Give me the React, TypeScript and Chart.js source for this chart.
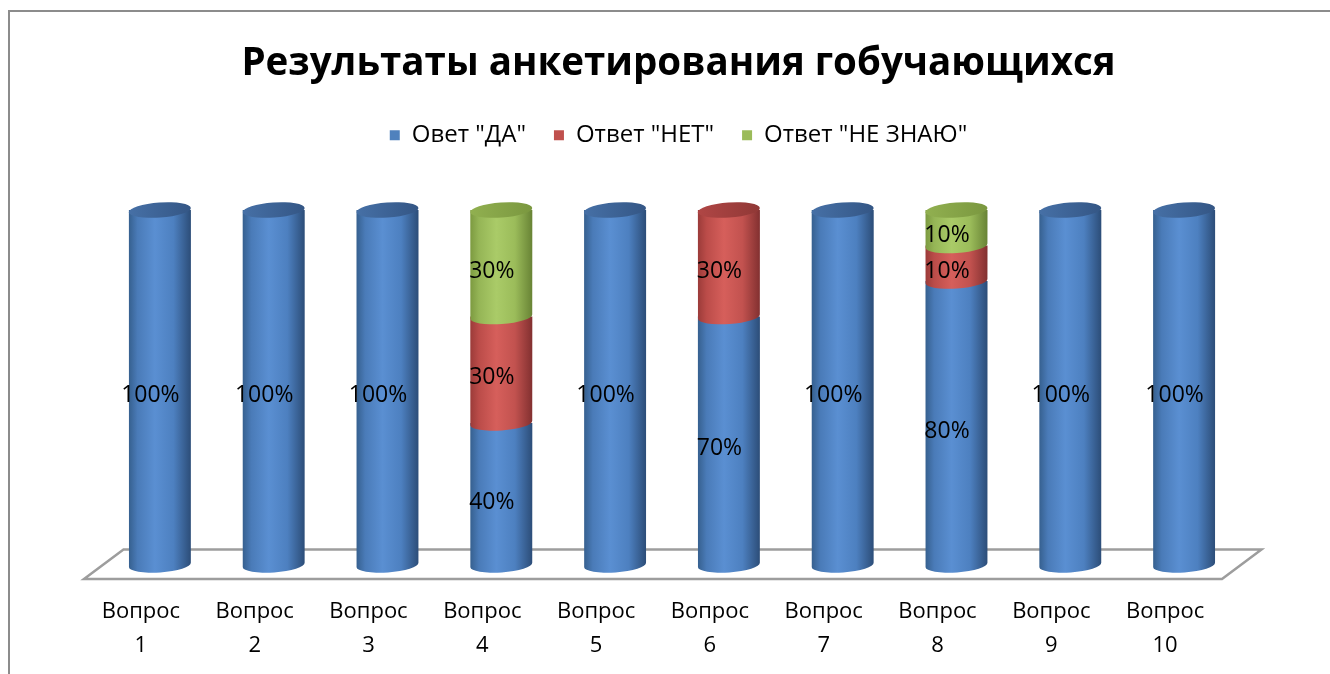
import React, { useEffect, useRef } from "react";
import { Chart, registerables } from "chart.js";

Chart.register(...registerables);

const titleText = "Результаты анкетирования гобучающихся";
const categories = [
  ["Вопрос", "1"],
  ["Вопрос", "2"],
  ["Вопрос", "3"],
  ["Вопрос", "4"],
  ["Вопрос", "5"],
  ["Вопрос", "6"],
  ["Вопрос", "7"],
  ["Вопрос", "8"],
  ["Вопрос", "9"],
  ["Вопрос", "10"],
];
const seriesNames = ['Овет "ДА"', 'Ответ "НЕТ"', 'Ответ "НЕ ЗНАЮ"'];
const yesValues = [100, 100, 100, 40, 100, 70, 100, 80, 100, 100];
const noValues = [0, 0, 0, 30, 0, 30, 0, 10, 0, 0];
const dunnoValues = [0, 0, 0, 30, 0, 0, 0, 10, 0, 0];

const baseColors = ["#4F81BD", "#C0504D", "#9BBB59"];
const shades = [
  { left: "#36608f", mid: "#4a7bb8", hi: "#5a8fd2", base: "#4d80c0", right: "#2c4d78", capL: "#4670a6", capR: "#345685" },
  { left: "#9b3b39", mid: "#bb4c49", hi: "#d65f5b", base: "#c2524f", right: "#823030", capL: "#b04645", capR: "#903836" },
  { left: "#7c9a40", mid: "#95b556", hi: "#aacb68", base: "#9bbc5a", right: "#688335", capL: "#91b050", capR: "#7a973f" },
];

const FONT = "'Open Sans', 'Noto Sans', sans-serif";
const BAR_DX = 19; // depth offset of bars from front axis
const ELL_B = 7.5;
const TILT = -0.07;

function drawDataset(chart: any, di: number) {
  const { ctx } = chart;
  const meta = chart.getDatasetMeta(di);
  const datasets = chart.data.datasets;
  const sh = shades[di];
  meta.data.forEach((el: any, j: number) => {
    const v = datasets[di].data[j];
    if (!v) return;
    const x = el.x + BAR_DX;
    const a = el.width / 2;
    const yTop = el.y;
    const yBase = el.base;
    const g = ctx.createLinearGradient(x - a, 0, x + a, 0);
    g.addColorStop(0, sh.left);
    g.addColorStop(0.14, sh.mid);
    g.addColorStop(0.42, sh.hi);
    g.addColorStop(0.72, sh.base);
    g.addColorStop(1, sh.right);
    ctx.fillStyle = g;
    ctx.beginPath();
    ctx.moveTo(x - a, yTop);
    ctx.lineTo(x - a * Math.cos(TILT), yBase - a * Math.sin(TILT));
    ctx.ellipse(x, yBase, a, ELL_B, TILT, Math.PI, 0, true);
    ctx.lineTo(x + a, yTop);
    ctx.closePath();
    ctx.fill();
    let topmost = true;
    for (let k = di + 1; k < datasets.length; k++) {
      if (datasets[k].data[j]) topmost = false;
    }
    if (topmost) {
      const cg = ctx.createLinearGradient(x - a, 0, x + a, 0);
      cg.addColorStop(0, sh.capL);
      cg.addColorStop(1, sh.capR);
      ctx.fillStyle = cg;
      ctx.beginPath();
      ctx.ellipse(x, yTop, a, ELL_B, TILT, 0, Math.PI * 2);
      ctx.fill();
    }
  });
}

const cylinderPlugin = {
  id: "cylinders",
  beforeDatasetsDraw(chart: any) {
    const { ctx, chartArea } = chart;
    const y0 = chart.scales.y.getPixelForValue(0);
    const fy = y0 + 14;
    const by = y0 - 15.5;
    const dx = 39.5;
    ctx.save();
    ctx.strokeStyle = "#9d9d9d";
    ctx.lineWidth = 2.5;
    ctx.beginPath();
    ctx.moveTo(chartArea.left, fy);
    ctx.lineTo(chartArea.right, fy);
    ctx.lineTo(chartArea.right + dx, by);
    ctx.lineTo(chartArea.left + dx, by);
    ctx.closePath();
    ctx.stroke();
    for (let di = 0; di < chart.data.datasets.length; di++) {
      drawDataset(chart, di);
    }
    ctx.restore();
  },
  beforeDatasetDraw() {
    return false;
  },
  afterDatasetsDraw(chart: any) {
    const { ctx } = chart;
    ctx.save();
    ctx.font = `23px ${FONT}`;
    ctx.fillStyle = "#000";
    ctx.textAlign = "center";
    ctx.textBaseline = "middle";
    chart.data.datasets.forEach((ds: any, di: number) => {
      const meta = chart.getDatasetMeta(di);
      meta.data.forEach((el: any, j: number) => {
        const v = ds.data[j];
        if (!v) return;
        const x = el.x + BAR_DX / 2;
        const y = (el.y + el.base) / 2 + 8;
        ctx.fillText(`${v}%`, x, y);
      });
    });
    ctx.restore();
  },
};

export default function App() {
  const ref = useRef<HTMLCanvasElement | null>(null);
  useEffect(() => {
    if (!ref.current) return;
    const values = [yesValues, noValues, dunnoValues];
    const chart = new Chart(ref.current, {
      type: "bar",
      data: {
        labels: categories,
        datasets: seriesNames.map((name, i) => ({
          label: name,
          data: values[i],
          backgroundColor: baseColors[i],
          borderWidth: 0,
          barPercentage: 0.545,
          categoryPercentage: 1,
        })),
      },
      options: {
        animation: false,
        responsive: false,
        layout: { padding: { left: 17, right: 0, top: 0, bottom: 11 } },
        plugins: {
          title: {
            display: true,
            text: titleText,
            color: "#000",
            font: { family: FONT, size: 38.5, weight: "bold", lineHeight: 1.2 },
            padding: { top: 29, bottom: 8 },
          },
          legend: {
            labels: {
              boxWidth: 10,
              boxHeight: 10,
              color: "#000",
              font: { family: FONT, size: 24 },
              padding: 28,
            },
          },
          tooltip: { enabled: false },
        },
        scales: {
          x: {
            stacked: true,
            offset: true,
            grid: { display: false, drawTicks: false },
            border: { display: false },
            ticks: {
              color: "#000",
              font: { family: FONT, size: 22, lineHeight: 34 / 22 },
              padding: 30,
              maxRotation: 0,
              autoSkip: false,
            },
            afterFit: (s: any) => {
              s.height = 98;
            },
          },
          y: {
            stacked: true,
            min: 0,
            max: 114.9,
            display: true,
            ticks: { display: false },
            grid: { display: false, drawTicks: false },
            border: { display: false },
            afterFit: (s: any) => {
              s.width = 57;
            },
          },
          y2: {
            position: "right",
            display: true,
            ticks: { display: false },
            grid: { display: false, drawTicks: false },
            border: { display: false },
            afterFit: (s: any) => {
              s.width = 108;
            },
          },
        },
      } as any,
      plugins: [cylinderPlugin],
    });
    return () => chart.destroy();
  }, []);
  return (
    <div
      style={{
        position: "absolute",
        left: 8,
        top: 10,
        borderTop: "2px solid #8c8c8c",
        borderLeft: "2px solid #8c8c8c",
        width: 1320,
        height: 662,
        background: "#fff",
      }}
    >
      <canvas ref={ref} width={1320} height={662} style={{ display: "block" }} />
    </div>
  );
}
